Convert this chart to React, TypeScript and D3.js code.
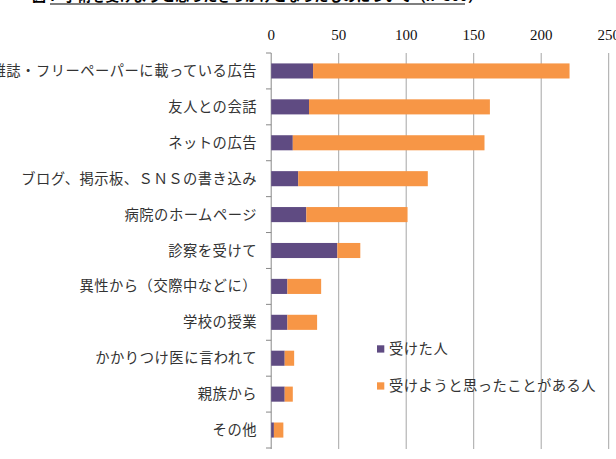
import React from "react";
import * as d3 from "d3";

const categories = [
  "雑誌・フリーペーパーに載っている広告",
  "友人との会話",
  "ネットの広告",
  "ブログ、掲示板、ＳＮＳの書き込み",
  "病院のホームページ",
  "診察を受けて",
  "異性から（交際中などに）",
  "学校の授業",
  "かかりつけ医に言われて",
  "親族から",
  "その他",
];
const received = [31, 28, 16, 20, 26, 49, 12, 12, 10, 10, 2];
const considered = [190, 134, 142, 96, 75, 17, 25, 22, 7, 6, 7];
const seriesNames = ["受けた人", "受けようと思ったことがある人"];
const xTicks = [0, 50, 100, 150, 200, 250];
const title = "図７ 手術を受けようと思ったきっかけとなったものについて（n=300）";

const W = 616;
const H = 459;
const colors = ["#5F4B82", "#F79646"];
const jp = "'Noto Sans CJK JP', 'Noto Sans', sans-serif";
const serif = "'Liberation Serif', 'DejaVu Serif', serif";

export default function App() {
  const x = d3.scaleLinear().domain([0, 250]).range([271.2, 608.7]);
  const y = d3.scaleBand<string>().domain(categories).range([53, 448]).paddingInner(0.58).paddingOuter(0.29);
  const band = d3.scaleBand<string>().domain(categories).range([53, 448]);
  const stackData = categories.map((c, i) => ({ cat: c, a: received[i], b: considered[i] }));
  const stacked = d3.stack<any>().keys(["a", "b"])(stackData);

  return (
    <svg width={W} height={H} style={{ position: "absolute", left: 0, top: 0, background: "#fff" }}>
      <text x={257} y={1} textAnchor="middle" fontFamily={jp} fontSize={14} fontWeight="bold" fill="#000">
        {title}
      </text>
      <line x1={50} x2={465} y1={4} y2={4} stroke="#000" strokeWidth={1.2} />
      {xTicks.map((t) => (
        <g key={t}>
          <line x1={x(t)} x2={x(t)} y1={53} y2={449} stroke={t === 0 ? "#888" : "#A6A6A6"} strokeWidth={1} />
          <text x={x(t)} y={40} textAnchor="middle" fontFamily={serif} fontSize={15} fill="#111">
            {t}
          </text>
        </g>
      ))}
      {categories.map((c) => (
        <line key={"t" + c} x1={266} x2={271.2} y1={band(c)!} y2={band(c)!} stroke="#888" />
      ))}
      <line x1={266} x2={271.2} y1={448} y2={448} stroke="#888" />
      {stacked.map((s, si) =>
        s.map((d: any) => (
          <rect
            key={si + d.data.cat}
            x={x(d[0])}
            y={y(d.data.cat)!}
            width={x(d[1]) - x(d[0])}
            height={y.bandwidth()}
            fill={colors[si]}
          />
        ))
      )}
      {categories.map((c) => (
        <text
          key={"l" + c}
          x={257}
          y={band(c)! + band.bandwidth() / 2 + 5}
          textAnchor="end"
          fontFamily={jp}
          fontSize={14.3}
          letterSpacing={0.5}
          fill="#333"
        >
          {c}
        </text>
      ))}
      {seriesNames.map((n, i) => (
        <g key={n} transform={`translate(377, ${349 + i * 37})`}>
          <rect x={0} y={-3.7} width={7.3} height={7.3} fill={colors[i]} />
          <text x={12} y={5} fontFamily={jp} fontSize={14.3} letterSpacing={0.5} fill="#333">
            {n}
          </text>
        </g>
      ))}
    </svg>
  );
}
